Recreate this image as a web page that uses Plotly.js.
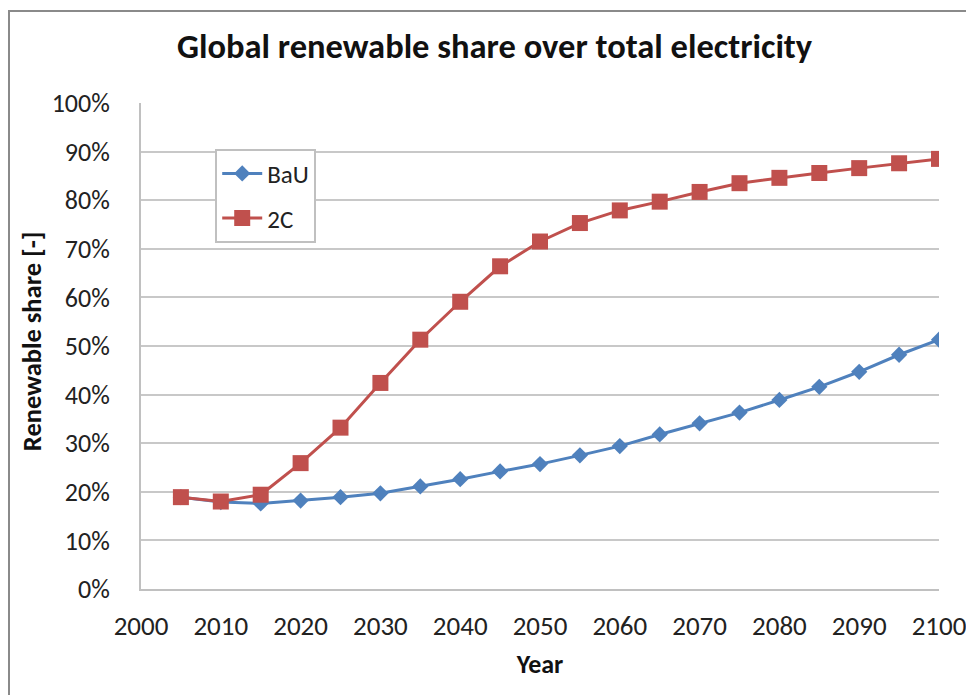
<!DOCTYPE html>
<html>
<head>
<meta charset="utf-8">
<script src="https://cdn.plot.ly/plotly-3.0.1.min.js"></script>
<style>
  html, body { margin: 0; padding: 0; background: #fff; overflow: hidden; }
  #wrap { position: relative; width: 966px; height: 695px; }
  #chart { width: 966px; height: 695px; }
  #frame {
    position: absolute; left: 8px; top: 10px; width: 1000px; height: 1000px;
    border: 2px solid #8a8a8a; box-sizing: border-box; pointer-events: none;
  }
</style>
</head>
<body>
<div id="wrap">
  <div id="chart"></div>
  <div id="frame"></div>
</div>
<script>
// Model years (5-year steps)
const years = [2005, 2010, 2015, 2020, 2025, 2030, 2035, 2040, 2045, 2050,
               2055, 2060, 2065, 2070, 2075, 2080, 2085, 2090, 2095, 2100];

// Renewable share of total electricity, business-as-usual scenario
const bauShare = [0.189, 0.179, 0.176, 0.182, 0.189, 0.197, 0.211, 0.226, 0.242, 0.257,
                  0.275, 0.294, 0.318, 0.341, 0.363, 0.389, 0.416, 0.447, 0.482, 0.513];

// Renewable share of total electricity, 2 degree scenario
const twoCShare = [0.189, 0.180, 0.194, 0.259, 0.332, 0.424, 0.513, 0.591, 0.664, 0.715,
                   0.753, 0.779, 0.797, 0.817, 0.835, 0.846, 0.856, 0.866, 0.876, 0.885];

const seriesNames = ['BaU', '2C'];
const xTicks = [2000, 2010, 2020, 2030, 2040, 2050, 2060, 2070, 2080, 2090, 2100];
const yTicks = [0, 0.1, 0.2, 0.3, 0.4, 0.5, 0.6, 0.7, 0.8, 0.9, 1.0];

const FONT = 'Carlito, Calibri, Lato, "Open Sans", sans-serif';

const traces = [
  {
    x: years, y: bauShare, name: seriesNames[0], legendgroup: 'bau',
    type: 'scatter', mode: 'lines+markers',
    line: { color: '#4F81BD', width: 3 },
    marker: { symbol: 'diamond', size: 12.5, color: '#4F81BD' }
  },
  {
    x: years, y: twoCShare, name: seriesNames[1], legendgroup: 'twoc',
    type: 'scatter', mode: 'lines+markers',
    line: { color: '#C0504D', width: 3 },
    marker: { symbol: 'square', size: 16, color: '#C0504D' }
  }
];

const layout = {
  width: 966, height: 695,
  margin: { l: 141, r: 27, t: 103, b: 106 },
  paper_bgcolor: '#ffffff', plot_bgcolor: '#ffffff',
  font: { family: FONT, size: 26, color: '#222' },
  title: {
    text: '<b>Global renewable share over total electricity</b>',
    font: { family: FONT, size: 34.5, color: '#111' },
    x: 0.512, xanchor: 'center', y: 0.934, yanchor: 'middle'
  },
  xaxis: {
    range: [2000, 2100], tickvals: xTicks, ticktext: xTicks.map(String),
    showgrid: false, zeroline: false, showline: true, linecolor: '#c0c0c0', linewidth: 2,
    ticks: 'outside', ticklen: 0, ticklabelstandoff: 12, ticklabeloverflow: 'allow',
    tickfont: { family: FONT, size: 27, color: '#222' },
    title: { text: '<b>Year</b>', font: { family: FONT, size: 26, color: '#111' }, standoff: 13 }
  },
  yaxis: {
    range: [0, 1], tickvals: yTicks, tickformat: '.0%',
    showgrid: true, gridcolor: '#c8c8c8', gridwidth: 2,
    zeroline: false, showline: true, linecolor: '#c0c0c0', linewidth: 2,
    ticks: 'outside', ticklen: 0, ticklabelstandoff: 24, ticklabeloverflow: 'allow',
    tickfont: { family: FONT, size: 26, color: '#222' }
  },
  annotations: [
    {
      text: '<b>Renewable share [-]</b>', textangle: -90, showarrow: false,
      xref: 'paper', yref: 'paper', x: -0.1366, y: 0.51,
      xanchor: 'center', yanchor: 'middle',
      font: { family: FONT, size: 26.5, color: '#111' }
    }
  ],
  legend: {
    x: 0.093, y: 0.906, xanchor: 'left', yanchor: 'top',
    bgcolor: '#ffffff', bordercolor: '#c0c0c0', borderwidth: 2,
    font: { family: FONT, size: 25, color: '#222' },
    itemwidth: 40, tracegroupgap: 9
  },
  showlegend: true
};

Plotly.newPlot('chart', traces, layout, { displayModeBar: false, staticPlot: true });
</script>
</body>
</html>
